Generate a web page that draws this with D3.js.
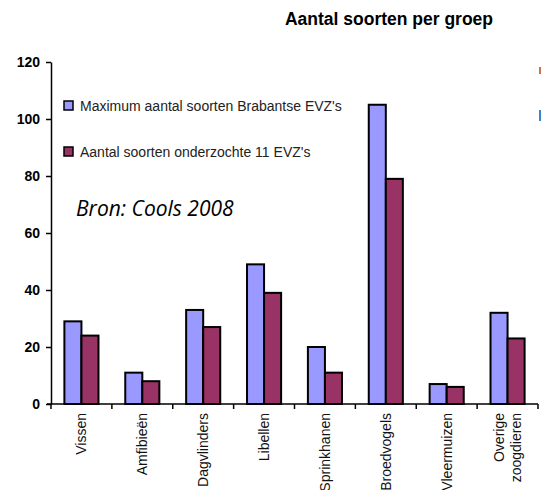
<!DOCTYPE html>
<html>
<head>
<meta charset="utf-8">
<script src="https://cdn.jsdelivr.net/npm/d3@7"></script>
<style>
  body { margin: 0; background: #fff; }
  svg { display: block; }
</style>
</head>
<body>
<div id="chart"></div>
<script>
// dati
var groepen = ["Vissen", "Amfibieën", "Dagvlinders", "Libellen", "Sprinkhanen", "Broedvogels", "Vleermuizen", "Overige zoogdieren"];
var maxBrabant = [29, 11, 33, 49, 20, 105, 7, 32];
var onderzocht = [24, 8, 27, 39, 11, 79, 6, 23];
var yTicks = [0, 20, 40, 60, 80, 100, 120];
var reeksen = ["Maximum aantal soorten Brabantse EVZ's", "Aantal soorten onderzochte 11 EVZ's"];
var kleuren = ["#9999FF", "#993366"];

var width = 541, height = 490;
var margin = { left: 51, right: 3, top: 62, bottom: 86 };

var svg = d3.select("#chart").append("svg")
  .attr("width", width)
  .attr("height", height);

var x0 = d3.scaleBand()
  .domain(groepen)
  .range([margin.left, width - margin.right])
  .paddingInner(0.44)
  .paddingOuter(0.22);

var x1 = d3.scaleBand()
  .domain([0, 1])
  .range([0, x0.bandwidth()]);

var y = d3.scaleLinear()
  .domain([0, 120])
  .range([height - margin.bottom, margin.top]);

// barre
var gruppi = svg.append("g").selectAll("g")
  .data(groepen)
  .enter()
  .append("g")
  .attr("transform", (d) => `translate(${x0(d)},0)`);

gruppi.selectAll("rect")
  .data((d, i) => [maxBrabant[i], onderzocht[i]])
  .enter()
  .append("rect")
  .attr("x", (d, j) => x1(j))
  .attr("y", (d) => y(d))
  .attr("width", x1.bandwidth())
  .attr("height", (d) => y(0) - y(d))
  .attr("fill", (d, j) => kleuren[j])
  .attr("stroke", "#000")
  .attr("stroke-width", 2);

// asse y
var yAxis = svg.append("g")
  .attr("transform", `translate(${margin.left},0)`)
  .call(d3.axisLeft(y).tickValues(yTicks).tickSize(5).tickPadding(6).tickSizeOuter(0));

yAxis.select(".domain").attr("stroke", "#000").attr("stroke-width", 1.5);
yAxis.selectAll(".tick line").attr("stroke", "#000").attr("stroke-width", 1.5);
yAxis.selectAll("text")
  .attr("font-family", "Liberation Sans, Arial, sans-serif")
  .attr("font-size", "14px")
  .attr("font-weight", "bold")
  .attr("fill", "#000");

// asse x (linea di base con tacche tra le categorie)
var range = x0.range();
svg.append("line")
  .attr("x1", range[0] - 4)
  .attr("x2", range[1])
  .attr("y1", y(0))
  .attr("y2", y(0))
  .attr("stroke", "#000")
  .attr("stroke-width", 1.5);

var confini = d3.range(groepen.length + 1).map((i) => range[0] + i * (range[1] - range[0]) / groepen.length);
svg.append("g").selectAll("line")
  .data(confini)
  .enter()
  .append("line")
  .attr("x1", (d) => d)
  .attr("x2", (d) => d)
  .attr("y1", y(0))
  .attr("y2", y(0) + 5)
  .attr("stroke", "#000")
  .attr("stroke-width", 1.5);

// etichette categorie ruotate
var etichette = svg.append("g").selectAll("text")
  .data(groepen)
  .enter()
  .append("text")
  .attr("transform", (d) => `translate(${x0(d) + x0.bandwidth() / 2},${y(0) + 9}) rotate(-90)`)
  .attr("text-anchor", "end")
  .attr("font-family", "Liberation Sans, Arial, sans-serif")
  .attr("font-size", "14px")
  .attr("fill", "#111");

etichette.each(function (d) {
  var parole = d.split(" ");
  var t = d3.select(this);
  if (parole.length === 1) {
    t.append("tspan").attr("x", 0).attr("dy", "0.35em").text(d);
  } else {
    t.append("tspan").attr("x", 0).attr("dy", "-0.25em").text(parole[0]);
    t.append("tspan").attr("x", 0).attr("dy", "1.2em").text(parole[1]);
  }
});

// titolo
svg.append("text")
  .attr("x", 389)
  .attr("y", 25)
  .attr("text-anchor", "middle")
  .attr("font-family", "Liberation Sans, Arial, sans-serif")
  .attr("font-size", "17.5px")
  .attr("font-weight", "bold")
  .attr("fill", "#000")
  .text("Aantal soorten per groep");

// legenda
var legenda = svg.append("g").selectAll("g")
  .data(reeksen)
  .enter()
  .append("g")
  .attr("transform", (d, i) => `translate(64,${101 + i * 46})`);

legenda.append("rect")
  .attr("width", 9)
  .attr("height", 9)
  .attr("fill", (d, i) => kleuren[i])
  .attr("stroke", "#000")
  .attr("stroke-width", 1.5);

legenda.append("text")
  .attr("x", 16)
  .attr("y", 10)
  .attr("font-family", "Liberation Sans, Arial, sans-serif")
  .attr("font-size", "14px")
  .attr("fill", "#222")
  .text((d) => d);

// fonte
svg.append("text")
  .attr("x", 76)
  .attr("y", 216)
  .attr("font-family", "Open Sans, Noto Sans, sans-serif")
  .attr("font-style", "italic")
  .attr("font-size", "21px")
  .attr("fill", "#000")
  .text("Bron: Cools 2008");

// frammenti tagliati sul bordo destro
svg.append("rect").attr("x", 539).attr("y", 67).attr("width", 2).attr("height", 7).attr("fill", "#c8764a");
svg.append("rect").attr("x", 539).attr("y", 110).attr("width", 2).attr("height", 11).attr("fill", "#3a86c8");
</script>
</body>
</html>
